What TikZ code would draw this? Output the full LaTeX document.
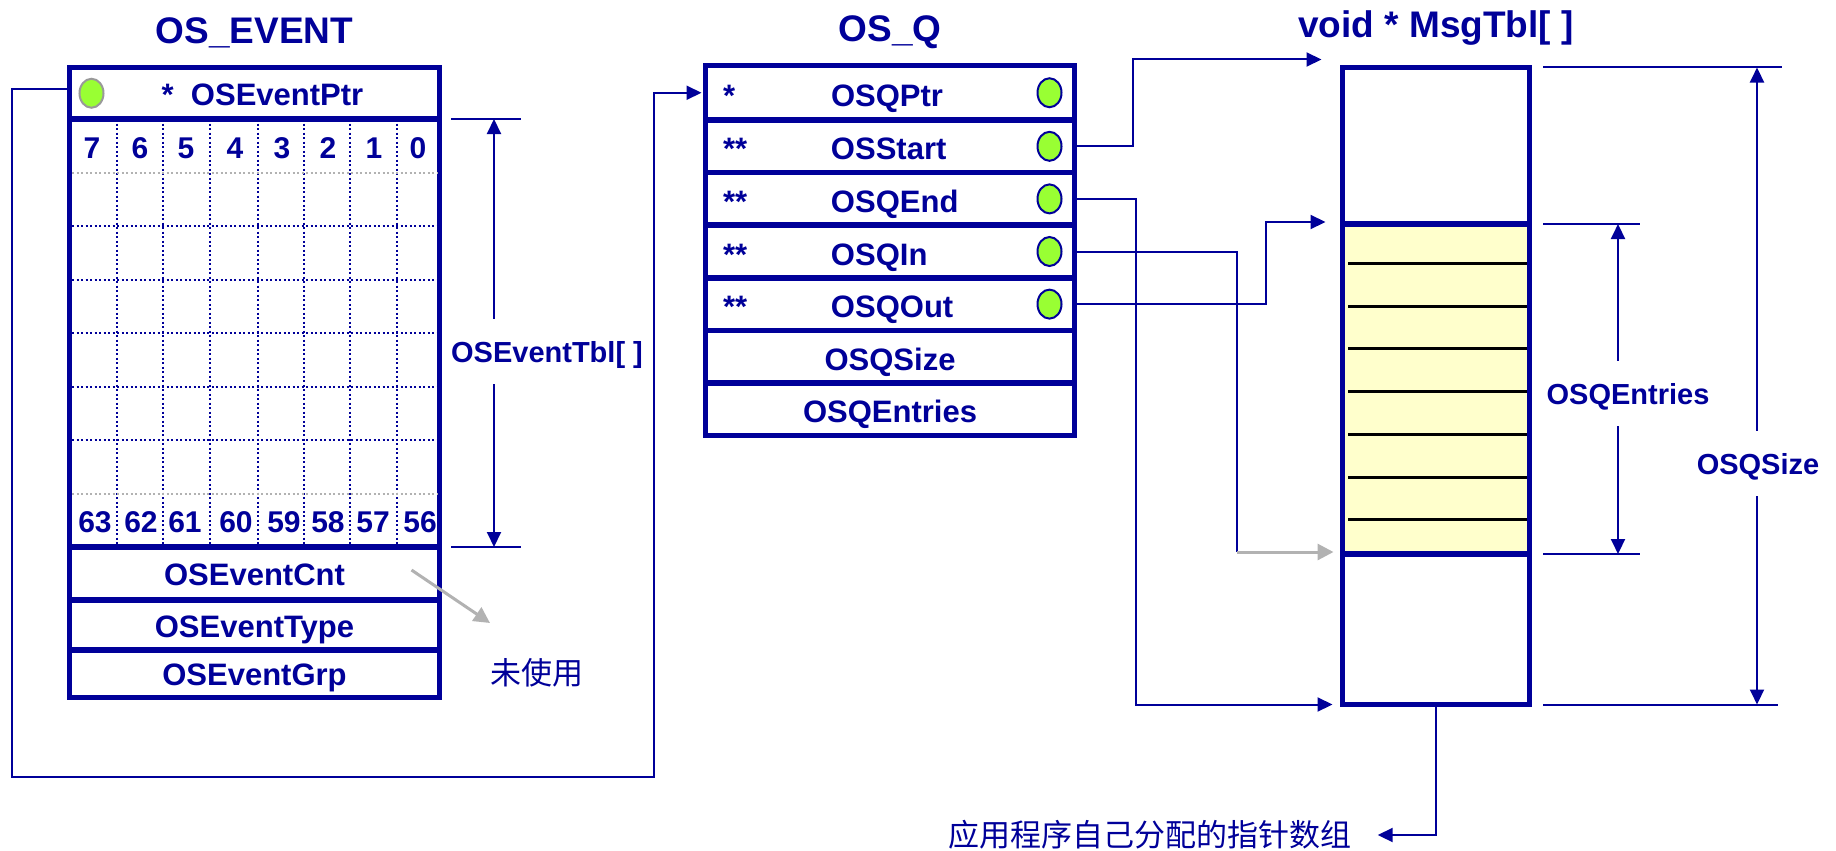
\documentclass[tikz,border=0pt]{standalone}
\usepackage{fontspec}
\setmainfont{Liberation Sans}
\newfontfamily\cjk{Noto Sans CJK SC}
\usetikzlibrary{arrows.meta,shapes.geometric,positioning}
\definecolor{osblue}{RGB}{0,0,153}
\definecolor{ledgreen}{RGB}{153,255,51}
\definecolor{slotyellow}{RGB}{255,255,204}
\definecolor{hintgray}{RGB}{178,178,178}
\newcommand{\hdfont}{\fontsize{37}{40}\selectfont\bfseries}
\newcommand{\fldfont}{\fontsize{31}{34}\selectfont\bfseries}
\newcommand{\bitfont}{\fontsize{30}{32}\selectfont\bfseries}
\newcommand{\dimfont}{\fontsize{29}{32}\selectfont\bfseries}
\newcommand{\cnfont}{\cjk\fontsize{31}{34}\selectfont}
\newcommand{\qfield}[2]{\makebox[334pt][l]{\makebox[108pt][l]{#1}#2}}

\begin{document}
\begin{tikzpicture}[x=1pt,y=-1pt,
  field/.style={rectangle,draw=osblue,line width=5.5pt,inner sep=0pt,outer sep=0pt,
                text=osblue,font=\fldfont,text height=24pt,text depth=0pt},
  evrow/.style={field,minimum width=370pt},
  qrow/.style={field,minimum width=369pt,minimum height=52.6pt,text height=27pt},
  msgrow/.style={field,minimum width=187pt},
  led/.style={ellipse,fill=ledgreen,draw=osblue,line width=2pt,outer sep=0pt,
              minimum width=24pt,minimum height=29pt,inner sep=0pt},
  hdr/.style={font=\hdfont,text=osblue,inner sep=0pt,text height=27pt,text depth=0pt},
  bit/.style={font=\bitfont,text=osblue,inner sep=0pt,anchor=base},
  dimlbl/.style={font=\dimfont,text=osblue,inner xsep=2pt,inner ysep=22pt,
                 text height=21pt,text depth=0pt},
  cnlbl/.style={font=\cnfont,text=osblue,inner sep=0pt},
  conn/.style={draw=osblue,line width=2pt},
  ptrarrow/.style={-{Triangle[length=15pt,width=14pt]}},
  dimarrow/.style={conn,-{Triangle[length=15pt,width=14pt]}},
  hint/.style={draw=hintgray,line width=3pt,-{Triangle[length=16pt,width=16pt]}},
  bluedots/.style={draw=osblue,line width=2pt,dash pattern=on 2pt off 2.5pt},
  graydots/.style={draw=hintgray,line width=2pt,dash pattern=on 2pt off 2.5pt}]
\useasboundingbox (0,0) rectangle (1836,851);

\node[evrow,minimum height=51.5pt] (ptr) at (254.5,93.25) {\hspace{16pt}*\ \ OSEventPtr};
\node[evrow,minimum height=428pt,below=0pt of ptr] (grid) {};
\node[evrow,minimum height=53pt,below=0pt of grid] (cnt) {OSEventCnt};
\node[evrow,minimum height=50pt,below=0pt of cnt] (type) {OSEventType};
\node[evrow,minimum height=47.5pt,below=0pt of type] (grp) {OSEventGrp};
\node[led,draw=gray!80,right=10pt of ptr.west] (ptrled) {};
\node[hdr,above=24pt of ptr] (evtitle) {OS\_EVENT};

\draw[bluedots] (117,119) -- (117,547) (163,119) -- (163,547) (210,119) -- (210,547)
  (258,119) -- (258,547) (304,119) -- (304,547) (350,119) -- (350,547) (397,119) -- (397,547);
\draw[bluedots] (72,226) -- (437,226) (72,279.5) -- (437,279.5) (72,333) -- (437,333)
  (72,386.5) -- (437,386.5) (72,440) -- (437,440);
\draw[graydots] (72,172.5) -- (437,172.5) (72,493.5) -- (437,493.5);

\node[bit] (b7) at (92,158) {7};
\node[bit] (b6) at (140,158) {6};
\node[bit] (b5) at (186,158) {5};
\node[bit] (b4) at (235,158) {4};
\node[bit] (b3) at (282,158) {3};
\node[bit] (b2) at (328,158) {2};
\node[bit] (b1) at (374,158) {1};
\node[bit] (b0) at (418,158) {0};
\node[bit] (b63) at (95,532) {63};
\node[bit] (b62) at (141,532) {62};
\node[bit] (b61) at (185,532) {61};
\node[bit] (b60) at (236,532) {60};
\node[bit] (b59) at (284,532) {59};
\node[bit] (b58) at (328,532) {58};
\node[bit] (b57) at (373,532) {57};
\node[bit] (b56) at (420,532) {56};

\draw[conn] ([xshift=11.5pt]grid.north east) -- ++(70,0);
\draw[conn] ([xshift=11.5pt]grid.south east) -- ++(70,0);
\coordinate (tbltop) at ([xshift=54.5pt]grid.north east);
\coordinate (tblbot) at ([xshift=54.5pt]grid.south east);
\node[dimlbl] (tbllbl) at (547,351.5) {OSEventTbl[ ]};
\draw[dimarrow] (tbllbl.north -| tbltop) -- (tbltop);
\draw[dimarrow] (tbllbl.south -| tblbot) -- (tblbot);

\node[cnlbl] (unused) at (537,673) {未使用};
\coordinate (unusedtip) at (490,623);
\draw[hint] ([xshift=-28pt,yshift=3.5pt]cnt.east) -- (unusedtip);

\node[qrow,minimum height=54.5pt] (qptr) at (890,92.75) {\qfield{*}{OSQPtr}};
\node[qrow,below=0pt of qptr] (qstart) {\qfield{**}{OSStart}};
\node[qrow,below=0pt of qstart] (qend) {\qfield{**}{OSQEnd}};
\node[qrow,below=0pt of qend] (qin) {\qfield{**}{OSQIn}};
\node[qrow,below=0pt of qin] (qout) {\qfield{**}{OSQOut}};
\node[qrow,below=0pt of qout] (qsize) {OSQSize};
\node[qrow,below=0pt of qsize] (qentries) {OSQEntries};
\node[led,left=13pt of qptr.east] (qptrled) {};
\node[led,left=13pt of qstart.east] (qstartled) {};
\node[led,left=13pt of qend.east] (qendled) {};
\node[led,left=13pt of qin.east] (qinled) {};
\node[led,left=13pt of qout.east] (qoutled) {};
\node[hdr,above=24pt of qptr] (qtitle) {OS\_Q};

\coordinate (frameL) at (12,777);
\coordinate (frameR) at (654,777);
\draw[conn,ptrarrow,shorten >=4pt] ([yshift=4pt]ptr.west) -| (frameL) -- (frameR) |- (qptr.west);

\node[msgrow,minimum height=156.5pt] (mtop) at (1436,145.75) {};
\node[msgrow,minimum height=330pt,fill=slotyellow,below=0pt of mtop] (mused) {};
\node[msgrow,minimum height=150.5pt,below=0pt of mused] (mbot) {};
\node[hdr,above=30pt of mtop] (msgtitle) {void * MsgTbl[ ]};
\draw[black,line width=3pt] (1348,263) -- (1527,263) (1348,306) -- (1527,306)
  (1348,348) -- (1527,348) (1348,391) -- (1527,391) (1348,434) -- (1527,434)
  (1348,477) -- (1527,477) (1348,519) -- (1527,519);

\draw[conn,ptrarrow] (qstart.east) -- ++(58.5,0) |- ([xshift=-21pt,yshift=8pt]mtop.north west);
\draw[conn,ptrarrow] (qend.east) -- ++(61.5,0) |- ([xshift=-10pt]mbot.south west);
\coordinate (inturn) at (1237,552);
\draw[conn] (qin.east) -| (inturn);
\draw[hint,shorten >=9pt] (inturn) -- (inturn -| mused.west);
\draw[conn,ptrarrow] (qout.east) -- ++(191.5,0) |- ([xshift=-17pt,yshift=2pt]mused.north west);

\draw[conn] ([xshift=13.5pt]mtop.north east) -- ++(239,0);
\draw[conn] ([xshift=13.5pt]mbot.south east) -- ++(235,0);
\draw[conn] ([xshift=13.5pt]mused.north east) -- ++(97,0);
\draw[conn] ([xshift=13.5pt]mused.south east) -- ++(97,0);
\coordinate (sizetop) at ([xshift=227.5pt]mtop.north east);
\coordinate (sizebot) at ([xshift=227.5pt]mbot.south east);
\coordinate (enttop) at ([xshift=88.5pt]mused.north east);
\coordinate (entbot) at ([xshift=88.5pt]mused.south east);
\node[dimlbl] (sizelbl) at (1758,463.5) {OSQSize};
\node[dimlbl] (entlbl) at (1628,393.5) {OSQEntries};
\draw[dimarrow] (sizelbl.north -| sizetop) -- (sizetop);
\draw[dimarrow] (sizelbl.south -| sizebot) -- (sizebot);
\draw[dimarrow] (entlbl.north -| enttop) -- (enttop);
\draw[dimarrow] (entlbl.south -| entbot) -- (entbot);

\node[cnlbl] (alloc) at (1150,835) {应用程序自己分配的指针数组};
\draw[conn,ptrarrow] (mbot.south) |- ([xshift=26pt]alloc.east);
\end{tikzpicture}
\end{document}
